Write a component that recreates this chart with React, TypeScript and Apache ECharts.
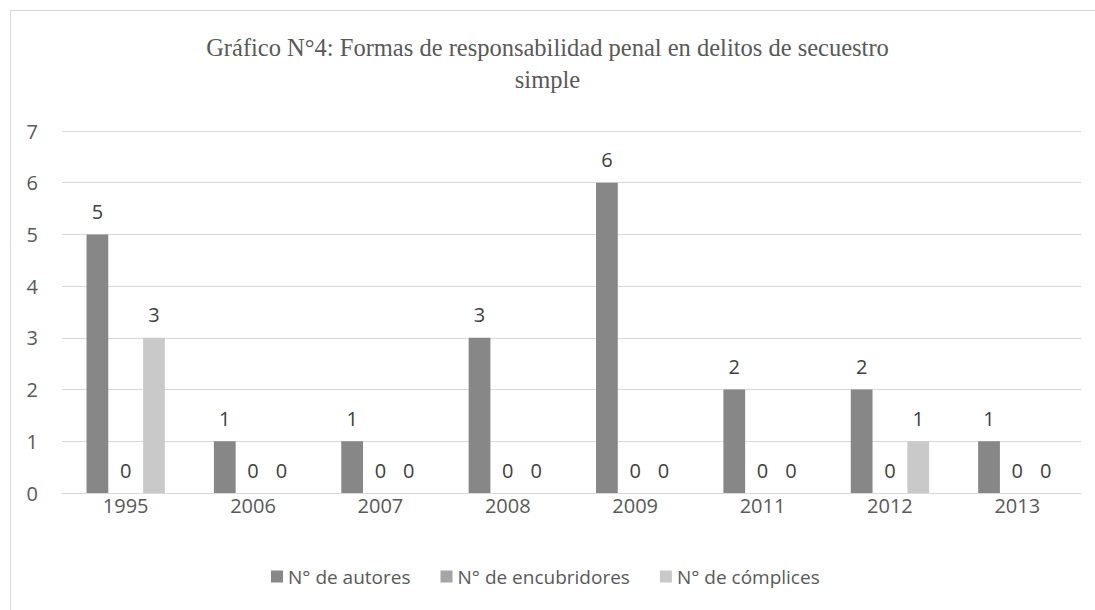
import React, { useEffect, useRef } from "react";
import * as echarts from "echarts";

const categories = ["1995", "2006", "2007", "2008", "2009", "2011", "2012", "2013"];
const autores = [5, 1, 1, 3, 6, 2, 2, 1];
const encubridores = [0, 0, 0, 0, 0, 0, 0, 0];
const complices = [3, 0, 0, 0, 0, 0, 1, 0];
const seriesNames = ["N° de autores", "N° de encubridores", "N° de cómplices"];
const colors = ["#878787", "#a5a5a5", "#c9c9c9"];
const titleText = "Gráfico N°4: Formas de responsabilidad penal en delitos de secuestro\nsimple";

const FONT = "'Open Sans', 'Liberation Sans', sans-serif";
const FS = 20;

export default function App() {
  const ref = useRef<HTMLDivElement>(null);
  useEffect(() => {
    document.body.style.margin = "0";
    const chart = echarts.init(ref.current!, null, { renderer: "svg" });
    const label = {
      show: true,
      position: "top" as const,
      distance: 13,
      color: "#404040",
      fontSize: FS,
      fontFamily: FONT,
    };
    const mk = (name: string, data: number[], color: string) => ({
      name,
      type: "bar" as const,
      data,
      itemStyle: { color },
      label,
      barGap: "30%",
      barCategoryGap: "38.5%",
    });
    chart.setOption({
      animation: false,
      backgroundColor: "#ffffff",
      title: {
        text: titleText,
        left: "center",
        top: 26,
        textStyle: {
          fontFamily: "'Liberation Serif', 'Times New Roman', serif",
          fontWeight: "normal",
          fontSize: 24.5,
          color: "#595959",
          lineHeight: 32,
        },
      },
      legend: {
        top: 562,
        left: 266,
        itemWidth: 12,
        itemHeight: 12,
        itemGap: 30,
        icon: "rect",
        textStyle: { color: "#595959", fontSize: 19, fontFamily: FONT },
        data: seriesNames,
      },
      grid: { left: 62, right: 14, top: 131, bottom: 117 },
      xAxis: {
        type: "category",
        data: categories,
        axisLine: { lineStyle: { color: "#d9d9d9", width: 1 } },
        axisTick: { show: false },
        axisLabel: { color: "#595959", fontSize: FS, fontFamily: FONT, margin: 2 },
      },
      yAxis: {
        type: "value",
        min: 0,
        max: 7,
        interval: 1,
        axisLine: { show: false },
        axisTick: { show: false },
        splitLine: { lineStyle: { color: "#d9d9d9", width: 1 } },
        axisLabel: { color: "#595959", fontSize: FS, fontFamily: FONT, margin: 24 },
      },
      series: [
        mk(seriesNames[0], autores, colors[0]),
        mk(seriesNames[1], encubridores, colors[1]),
        mk(seriesNames[2], complices, colors[2]),
      ],
      graphic: [
        { type: "line", shape: { x1: 10, y1: 10.5, x2: 1095, y2: 10.5 }, style: { stroke: "#d9d9d9", lineWidth: 1 } },
        { type: "line", shape: { x1: 10.5, y1: 10, x2: 10.5, y2: 610 }, style: { stroke: "#d9d9d9", lineWidth: 1 } },
      ],
    });
    return () => chart.dispose();
  }, []);
  return <div ref={ref} style={{ width: 1095, height: 610 }} />;
}
